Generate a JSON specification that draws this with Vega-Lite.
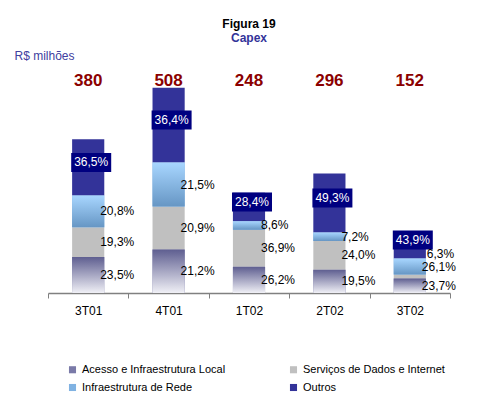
{
  "$schema": "https://vega.github.io/schema/vega-lite/v6.json",
  "width": 402,
  "height": 223,
  "autosize": {"type": "none"},
  "padding": {"left": 48, "top": 70, "right": 27, "bottom": 109},
  "background": "white",
  "config": {
    "view": {"stroke": null},
    "font": "Liberation Sans",
    "locale": {"number": {"decimal": ",", "thousands": ".", "grouping": [3], "currency": ["R$ ", ""]}}
  },
  "title": {
    "text": "Figura 19",
    "subtitle": "Capex",
    "anchor": "middle",
    "fontSize": 12,
    "fontWeight": "bold",
    "color": "#000000",
    "subtitleFontSize": 12,
    "subtitleFontWeight": "bold",
    "subtitleColor": "#333399",
    "subtitlePadding": 2,
    "offset": 4
  },
  "datasets": {
    "parts": [
      {"quarter": "3T01", "segment": "Acesso e Infraestrutura Local", "capex": 89.3, "share": 0.235},
      {"quarter": "3T01", "segment": "Serviços de Dados e Internet", "capex": 73.3, "share": 0.193},
      {"quarter": "3T01", "segment": "Infraestrutura de Rede", "capex": 79.0, "share": 0.208},
      {"quarter": "3T01", "segment": "Outros", "capex": 138.7, "share": 0.365},
      {"quarter": "4T01", "segment": "Acesso e Infraestrutura Local", "capex": 107.7, "share": 0.212},
      {"quarter": "4T01", "segment": "Serviços de Dados e Internet", "capex": 106.2, "share": 0.209},
      {"quarter": "4T01", "segment": "Infraestrutura de Rede", "capex": 109.2, "share": 0.215},
      {"quarter": "4T01", "segment": "Outros", "capex": 184.9, "share": 0.364},
      {"quarter": "1T02", "segment": "Acesso e Infraestrutura Local", "capex": 65.0, "share": 0.262},
      {"quarter": "1T02", "segment": "Serviços de Dados e Internet", "capex": 91.5, "share": 0.369},
      {"quarter": "1T02", "segment": "Infraestrutura de Rede", "capex": 21.3, "share": 0.086},
      {"quarter": "1T02", "segment": "Outros", "capex": 70.4, "share": 0.284},
      {"quarter": "2T02", "segment": "Acesso e Infraestrutura Local", "capex": 57.7, "share": 0.195},
      {"quarter": "2T02", "segment": "Serviços de Dados e Internet", "capex": 71.0, "share": 0.240},
      {"quarter": "2T02", "segment": "Infraestrutura de Rede", "capex": 21.3, "share": 0.072},
      {"quarter": "2T02", "segment": "Outros", "capex": 145.9, "share": 0.493},
      {"quarter": "3T02", "segment": "Acesso e Infraestrutura Local", "capex": 36.0, "share": 0.237},
      {"quarter": "3T02", "segment": "Serviços de Dados e Internet", "capex": 9.6, "share": 0.063},
      {"quarter": "3T02", "segment": "Infraestrutura de Rede", "capex": 39.7, "share": 0.261},
      {"quarter": "3T02", "segment": "Outros", "capex": 66.7, "share": 0.439}
    ],
    "totals": [
      {"quarter": "3T01", "total": 380},
      {"quarter": "4T01", "total": 508},
      {"quarter": "1T02", "total": 248},
      {"quarter": "2T02", "total": 296},
      {"quarter": "3T02", "total": 152}
    ]
  },
  "encoding": {
    "x": {
      "field": "quarter",
      "type": "nominal",
      "sort": ["3T01", "4T01", "1T02", "2T02", "3T02"],
      "scale": {"paddingInner": 0, "paddingOuter": 0},
      "axis": {
        "title": null,
        "labelAngle": 0,
        "labelFontSize": 12,
        "labelColor": "#000000",
        "labelPadding": 7,
        "domainColor": "#808080",
        "domainWidth": 1.5,
        "tickColor": "#808080",
        "tickSize": 5,
        "tickWidth": 1,
        "tickBand": "extent",
        "grid": false
      }
    }
  },
  "layer": [
    {
      "data": {"name": "parts"},
      "transform": [{"stack": "capex", "groupby": ["quarter"], "as": ["v0", "v1"]}],
      "mark": {"type": "bar", "width": {"band": 0.4}},
      "encoding": {
        "y": {
          "field": "v0",
          "type": "quantitative",
          "title": "R$ milhões",
          "scale": {"domain": [0, 552], "nice": false},
          "axis": {
            "title": "R$ milhões",
            "titleAngle": 0,
            "titleAlign": "left",
            "titleBaseline": "alphabetic",
            "titleX": -34,
            "titleY": -11,
            "titleFontSize": 12,
            "titleFontWeight": "normal",
            "titleColor": "#4040a0",
            "labels": false,
            "ticks": false,
            "domain": false,
            "grid": false
          }
        },
        "y2": {"field": "v1"},
        "color": {
          "field": "segment",
          "type": "nominal",
          "scale": {
            "domain": ["Acesso e Infraestrutura Local", "Infraestrutura de Rede", "Serviços de Dados e Internet", "Outros"],
            "range": ["#7a7aa8", "#80b2e2", "#c0c0c0", "#333399"]
          },
          "legend": {
            "title": null,
            "orient": "none",
            "legendX": 19,
            "legendY": 294,
            "columns": 2,
            "columnPadding": 62,
            "rowPadding": 6,
            "symbolType": "square",
            "symbolSize": 50,
            "symbolStrokeWidth": 0,
            "labelFontSize": 11,
            "labelColor": "#000000",
            "labelOffset": 4,
            "labelLimit": 0
          }
        }
      }
    },
    {
      "data": {"name": "parts"},
      "transform": [
        {"stack": "capex", "groupby": ["quarter"], "as": ["v0", "v1"]},
        {"filter": "datum.segment === 'Acesso e Infraestrutura Local'"}
      ],
      "mark": {
        "type": "bar",
        "width": {"band": 0.4},
        "color": {"gradient": "linear", "x1": 0, "y1": 0, "x2": 0, "y2": 1,
          "stops": [{"offset": 0, "color": "#5e5e90"}, {"offset": 1, "color": "#f0f0f6"}]}
      },
      "encoding": {
        "y": {"field": "v0", "type": "quantitative", "title": "R$ milhões"},
        "y2": {"field": "v1"}
      }
    },
    {
      "data": {"name": "parts"},
      "transform": [
        {"stack": "capex", "groupby": ["quarter"], "as": ["v0", "v1"]},
        {"filter": "datum.segment === 'Infraestrutura de Rede'"}
      ],
      "mark": {
        "type": "bar",
        "width": {"band": 0.4},
        "color": {"gradient": "linear", "x1": 0, "y1": 0, "x2": 0, "y2": 1,
          "stops": [{"offset": 0, "color": "#a8d6ff"}, {"offset": 1, "color": "#6696c4"}]}
      },
      "encoding": {
        "y": {"field": "v0", "type": "quantitative", "title": "R$ milhões"},
        "y2": {"field": "v1"}
      }
    },
    {
      "data": {"name": "parts"},
      "transform": [
        {"stack": "capex", "groupby": ["quarter"], "as": ["v0", "v1"]},
        {"filter": "datum.segment === 'Outros'"},
        {"fold": ["v0", "v1"], "as": ["edgeName", "edge"]}
      ],
      "mark": {
        "type": "point",
        "shape": "M-1,-0.475L1,-0.475L1,0.475L-1,0.475Z",
        "size": 1600,
        "filled": true,
        "fill": "#000080",
        "opacity": 1,
        "strokeWidth": 0,
        "xOffset": 3,
        "yOffset": -5
      },
      "encoding": {
        "y": {"aggregate": "mean", "field": "edge", "type": "quantitative", "title": "R$ milhões"},
        "detail": {"field": "segment"}
      }
    },
    {
      "data": {"name": "parts"},
      "transform": [
        {"stack": "capex", "groupby": ["quarter"], "as": ["v0", "v1"]},
        {"filter": "datum.segment === 'Outros'"},
        {"fold": ["v0", "v1"], "as": ["edgeName", "edge"]}
      ],
      "mark": {"type": "text", "color": "#ffffff", "fontSize": 12, "dx": 3, "dy": -5, "baseline": "middle", "align": "center"},
      "encoding": {
        "y": {"aggregate": "mean", "field": "edge", "type": "quantitative", "title": "R$ milhões"},
        "text": {"field": "share", "type": "quantitative", "format": ".1%"},
        "detail": {"field": "segment"}
      }
    },
    {
      "data": {"name": "parts"},
      "transform": [
        {"stack": "capex", "groupby": ["quarter"], "as": ["v0", "v1"]},
        {"filter": "datum.segment !== 'Outros' && !(datum.quarter === '3T02' && datum.segment === 'Serviços de Dados e Internet')"},
        {"fold": ["v0", "v1"], "as": ["edgeName", "edge"]}
      ],
      "mark": {"type": "text", "color": "#000000", "fontSize": 12, "dx": 12, "baseline": "middle", "align": "left"},
      "encoding": {
        "y": {"aggregate": "mean", "field": "edge", "type": "quantitative", "title": "R$ milhões"},
        "text": {"field": "share", "type": "quantitative", "format": ".1%"},
        "detail": {"field": "segment"}
      }
    },
    {
      "data": {"name": "parts"},
      "transform": [
        {"stack": "capex", "groupby": ["quarter"], "as": ["v0", "v1"]},
        {"filter": "datum.quarter === '3T02' && datum.segment === 'Serviços de Dados e Internet'"},
        {"fold": ["v0", "v1"], "as": ["edgeName", "edge"]}
      ],
      "mark": {"type": "text", "color": "#000000", "fontSize": 12, "dx": 17, "dy": -23, "baseline": "middle", "align": "left"},
      "encoding": {
        "y": {"aggregate": "mean", "field": "edge", "type": "quantitative", "title": "R$ milhões"},
        "text": {"field": "share", "type": "quantitative", "format": ".1%"},
        "detail": {"field": "segment"}
      }
    },
    {
      "data": {"name": "totals"},
      "mark": {"type": "text", "color": "#8b0000", "fontSize": 17, "fontWeight": "bold", "baseline": "top", "dy": 3, "align": "center"},
      "encoding": {
        "y": {"datum": 552, "type": "quantitative", "title": "R$ milhões"},
        "text": {"field": "total", "type": "quantitative"}
      }
    }
  ]
}
